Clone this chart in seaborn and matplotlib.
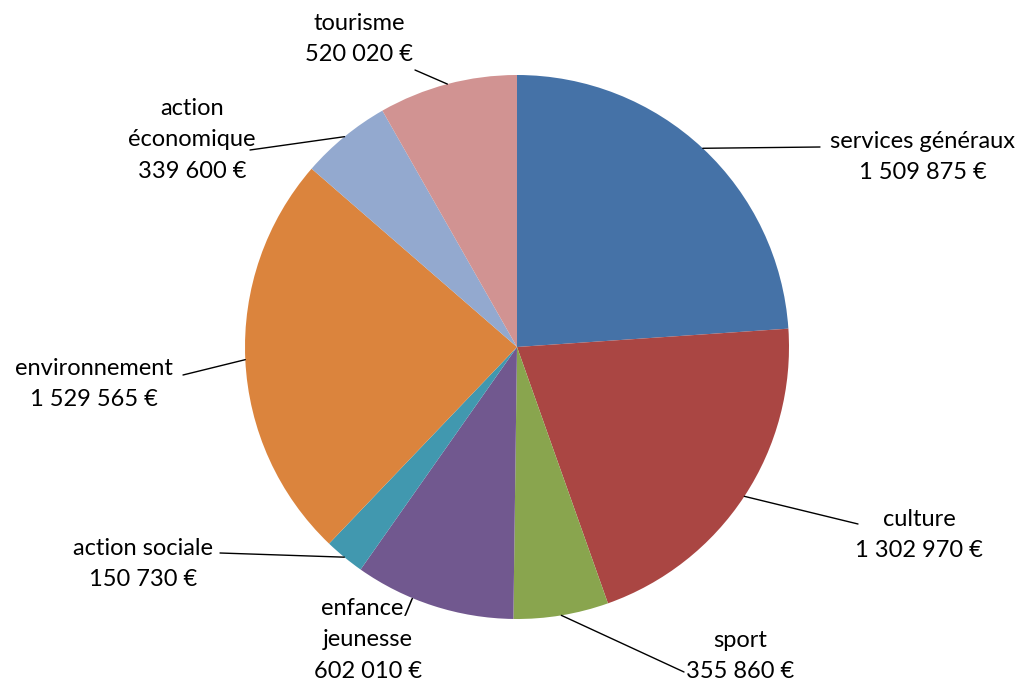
import numpy as np
import seaborn as sns
import matplotlib.pyplot as plt

# budget par domaine (ordre horaire depuis le haut)
categories = ["services généraux", "culture", "sport", "enfance/\njeunesse",
              "action sociale", "environnement", "action\néconomique", "tourisme"]
values = [1509875, 1302970, 355860, 602010, 150730, 1529565, 339600, 520020]
colors = ["#4572A7", "#AA4643", "#89A54E", "#71588F",
          "#4198AF", "#DB843D", "#93A9CF", "#D19392"]

# position des étiquettes (pixels) et bout du trait de rappel
label_pos = [(923, 157), (919, 535), (740, 656), (368, 640),
             (143, 564), (94, 384), (192, 140), (359, 39)]
line_end = [(820, 147), (858, 524), (684, 672), None,
            (220, 553), (183, 375), (250, 150), (415, 70)]

sns.set_theme(style="white")
plt.rcParams["font.family"] = ["Lato", "DejaVu Sans"]

W, H = 1024, 687
fig = plt.figure(figsize=(W / 100, H / 100), dpi=100)
ax = fig.add_axes([0, 0, 1, 1])

cx, cy, r = 517, H - 347, 272
wedges, _ = ax.pie(values, colors=sns.color_palette(colors), startangle=90,
                   counterclock=False, center=(cx, cy), radius=r,
                   wedgeprops=dict(linewidth=0), frame=True)
ax.set_xlim(0, W)
ax.set_ylim(0, H)
ax.set_aspect("equal")
ax.axis("off")

def fmt(v):
    return f"{v:,}".replace(",", " ") + " €"

for w, cat, v, pos, end in zip(wedges, categories, values, label_pos, line_end):
    ang = np.deg2rad((w.theta1 + w.theta2) / 2)
    ex, ey = cx + r * np.cos(ang), cy + r * np.sin(ang)
    ax.text(pos[0], H - pos[1], f"{cat}\n{fmt(v)}", ha="center", va="center",
            fontsize=17, color="black", linespacing=1.6)
    if end is not None:
        ax.plot([ex, end[0]], [ey, H - end[1]], color="black", lw=1)

fig.savefig("out.png", dpi=100)
